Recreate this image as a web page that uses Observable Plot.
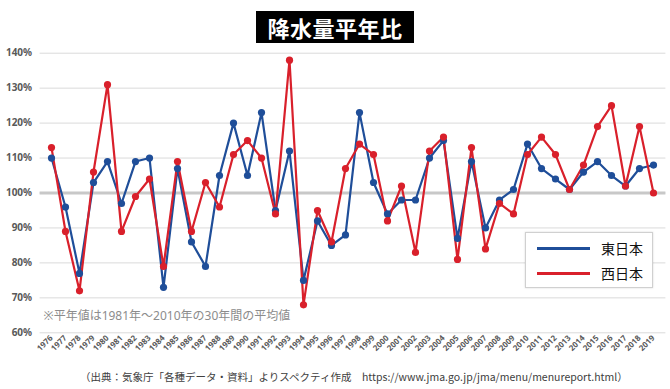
<!DOCTYPE html>
<html>
<head>
<meta charset="utf-8">
<script src="https://cdn.jsdelivr.net/npm/d3@7"></script>
<script src="https://cdn.jsdelivr.net/npm/@observablehq/plot@0.6"></script>
<style>
  html, body { margin: 0; padding: 0; background: #fff; }
  body { width: 670px; height: 389px; position: relative; overflow: hidden; font-family: "Noto Sans CJK JP", "Noto Sans", sans-serif; }
  #title { position: absolute; left: 0; top: 11px; width: 670px; text-align: center; z-index: 2; }
  #title span { display: inline-block; background: #000; color: #fff; font-weight: bold; font-size: 22px; line-height: 32px; height: 32px; padding: 0 11px; letter-spacing: 0.5px; }
  #chart { position: absolute; left: 0; top: 40px; }
  #legend { position: absolute; left: 525px; top: 232px; width: 126px; height: 54px; background: #fff; border: 1px solid #d0d0d0; box-shadow: 0 0 2px rgba(0,0,0,0.15); }
  .li { position: absolute; left: 11px; height: 20px; }
  .li .sw { position: absolute; left: 0; top: 9px; width: 53px; height: 3px; }
  .li .lt { position: absolute; left: 64px; top: 0; font-size: 14px; line-height: 20px; color: #111; white-space: nowrap; }
  #footer { position: absolute; left: 80px; top: 369px; font-size: 10.5px; color: #404040; white-space: nowrap; }
</style>
</head>
<body>
<div id="title"><span>降水量平年比</span></div>
<div id="chart"></div>
<div id="legend"></div>
<div id="footer">（出典：気象庁「各種データ・資料」よりスペクティ作成　https://www.jma.go.jp/jma/menu/menureport.html）</div>
<script>
const years = [1976,1977,1978,1979,1980,1981,1982,1983,1984,1985,1986,1987,1988,1989,1990,1991,1992,1993,1994,1995,1996,1997,1998,1999,2000,2001,2002,2003,2004,2005,2006,2007,2008,2009,2010,2011,2012,2013,2014,2015,2016,2017,2018,2019];
const eastJapan = [110,96,77,103,109,97,109,110,73,107,86,79,105,120,105,123,95,112,75,92,85,88,123,103,94,98,98,110,115,87,109,90,98,101,114,107,104,101,106,109,105,102,107,108];
const westJapan = [113,89,72,106,131,89,99,104,79,109,89,103,96,111,115,110,94,138,68,95,86,107,114,111,92,102,83,112,116,81,113,84,97,94,111,116,111,101,108,119,125,102,119,100];
const seriesNames = ["東日本", "西日本"];
const seriesColors = ["#1f4e99", "#d9202b"];
const yTicks = [60,70,80,90,100,110,120,130,140];
const note = "※平年値は1981年～2010年の30年間の平均値";

const rows = [];
years.forEach((y, i) => {
  rows.push({year: String(y), value: eastJapan[i], series: seriesNames[0]});
  rows.push({year: String(y), value: westJapan[i], series: seriesNames[1]});
});

const chart = Plot.plot({
  width: 670,
  height: 326,
  marginTop: 12.7,
  marginBottom: 33.7,
  marginLeft: 39.6,
  marginRight: 4.6,
  style: {fontFamily: "'Noto Sans', 'Noto Sans CJK JP', sans-serif", background: "transparent"},
  x: {type: "band", domain: years.map(String), padding: 0},
  y: {domain: [60, 140]},
  color: {domain: seriesNames, range: seriesColors},
  marks: [
    Plot.gridY(yTicks, {stroke: "#dadada", strokeOpacity: 1, strokeWidth: 1}),
    Plot.ruleY([100], {stroke: "#c8c8c8", strokeWidth: 3}),
    Plot.axisY(yTicks, {tickSize: 0, tickPadding: 8, tickFormat: d => d + "%", fontSize: 10, fontWeight: "bold", fill: "#595959", label: null}),
    Plot.axisX({tickSize: 0, tickRotate: -45, tickPadding: 4, fontSize: 8, fontWeight: "bold", fill: "#595959", label: null}),
    Plot.text([note], {frameAnchor: "bottom-left", dx: 3.5, dy: -13, text: d => d, fontSize: 12, fill: "#8c8c8c", textAnchor: "start"}),
    Plot.line(rows, {x: "year", y: "value", z: "series", stroke: "series", strokeWidth: 2.2}),
    Plot.dot(rows, {x: "year", y: "value", fill: "series", r: 3.6})
  ]
});
document.getElementById("chart").appendChild(chart);

const legend = document.getElementById("legend");
seriesNames.forEach((name, i) => {
  const item = document.createElement("div");
  item.className = "li";
  item.style.top = (5 + i * 25) + "px";
  item.innerHTML = `<div class="sw" style="background:${seriesColors[i]}"></div><div class="lt">${name}</div>`;
  legend.appendChild(item);
});
</script>
</body>
</html>
